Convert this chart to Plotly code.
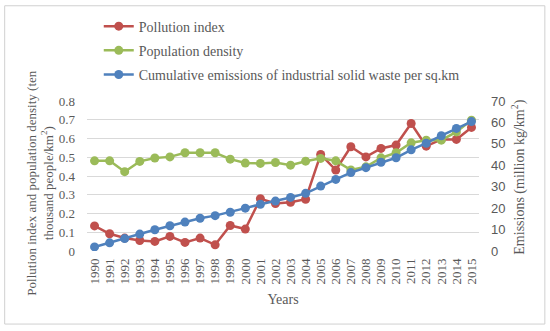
import plotly.graph_objects as go

years = [str(y) for y in range(1990, 2016)]
pollution_index = [0.134, 0.092, 0.069, 0.056, 0.051, 0.078, 0.046, 0.069, 0.033, 0.136,
                   0.117, 0.279, 0.253, 0.260, 0.276, 0.515, 0.432, 0.556, 0.502, 0.547,
                   0.565, 0.680, 0.559, 0.595, 0.595, 0.659]
population_density = [0.481, 0.481, 0.423, 0.478, 0.496, 0.502, 0.524, 0.524, 0.524, 0.490,
                      0.469, 0.467, 0.472, 0.458, 0.479, 0.494, 0.481, 0.432, 0.449, 0.497,
                      0.524, 0.577, 0.591, 0.591, 0.635, 0.698]
emissions = [1.9, 3.8, 5.8, 7.9, 9.9, 11.8, 13.5, 15.3, 16.5, 18.1,
             20.0, 21.8, 23.3, 25.0, 26.9, 30.3, 33.4, 36.6, 38.9, 41.4,
             43.5, 47.2, 50.3, 53.8, 57.2, 60.4]
left_ticks = [0, 0.1, 0.2, 0.3, 0.4, 0.5, 0.6, 0.7, 0.8]
right_ticks = [0, 10, 20, 30, 40, 50, 60, 70]

RED, GREEN, BLUE = "#C0504D", "#9BBB59", "#4F81BD"
GRAY = "#595959"
SERIF = "Liberation Serif, Times New Roman, serif"
SANS = "Liberation Sans, Arial, sans-serif"

fig = go.Figure()
fig.add_trace(go.Scatter(x=years, y=pollution_index, name="Pollution index",
                         mode="lines+markers", legendgroup="a",
                         line=dict(color=RED, width=2.5), marker=dict(size=9, color=RED)))
fig.add_trace(go.Scatter(x=years, y=population_density, name="Population density",
                         mode="lines+markers", legendgroup="b",
                         line=dict(color=GREEN, width=2.5), marker=dict(size=9, color=GREEN)))
fig.add_trace(go.Scatter(x=years, y=emissions, name="Cumulative emissions of industrial solid waste per sq.km",
                         mode="lines+markers", legendgroup="c", yaxis="y2",
                         line=dict(color=BLUE, width=2.5), marker=dict(size=9, color=BLUE)))

fig.update_layout(
    width=550, height=331,
    margin=dict(l=86.5, r=71, t=100.7, b=79.5, autoexpand=False),
    paper_bgcolor="white", plot_bgcolor="white",
    font=dict(family=SERIF, color=GRAY, size=13),
    showlegend=True,
    legend=dict(x=0.03, y=1.603, xanchor="left", yanchor="top",
                font=dict(family=SERIF, size=14, color=GRAY),
                tracegroupgap=3, itemwidth=30, bgcolor="rgba(0,0,0,0)"),
    xaxis=dict(type="category", range=[-0.5, 25.5], tickangle=-90,
               tickmode="array", tickvals=years, ticktext=years,
               tickfont=dict(family=SERIF, size=13, color=GRAY),
               showgrid=False, showline=False, zeroline=False, ticks="",
               ticklabelstandoff=4,
               title=dict(text="Years", font=dict(family=SERIF, size=14, color=GRAY), standoff=10)),
    yaxis=dict(range=[0, 0.8], tickvals=left_ticks, ticktext=[f"{v:g}" for v in left_ticks],
               showgrid=True, gridcolor="#D9D9D9", gridwidth=1, zeroline=False, showline=False,
               ticks="", ticklabelstandoff=11,
               tickfont=dict(family=SERIF, size=13, color=GRAY)),
    yaxis2=dict(range=[0, 70], tickvals=right_ticks, overlaying="y", side="right",
                showgrid=False, zeroline=False, showline=False, ticks="", ticklabelstandoff=11,
                tickfont=dict(family=SANS, size=13, color=GRAY)),
)

fig.add_annotation(xref="paper", yref="paper", x=-0.122, y=0.45, textangle=-90,
                   xanchor="center", yanchor="middle",
                   text="Pollution index and population density (ten<br>thousand people/km<sup>2</sup>)",
                   showarrow=False, font=dict(family=SERIF, size=13, color=GRAY), align="center")
fig.add_annotation(xref="paper", yref="paper", x=1.1, y=0.49, textangle=-90,
                   xanchor="center", yanchor="middle",
                   text="Emissions (million kg/km<sup>2</sup>)",
                   showarrow=False, font=dict(family=SERIF, size=14, color=GRAY))

fig.add_shape(type="rect", xref="paper", yref="paper",
              x0=-0.210, x1=1.168, y0=-0.487, y1=1.635,
              line=dict(color="#D0D0D0", width=1), fillcolor="rgba(0,0,0,0)", layer="above")

fig.write_html("out.html", config={"displayModeBar": False},
               post_script="document.body.style.margin='0px';")
